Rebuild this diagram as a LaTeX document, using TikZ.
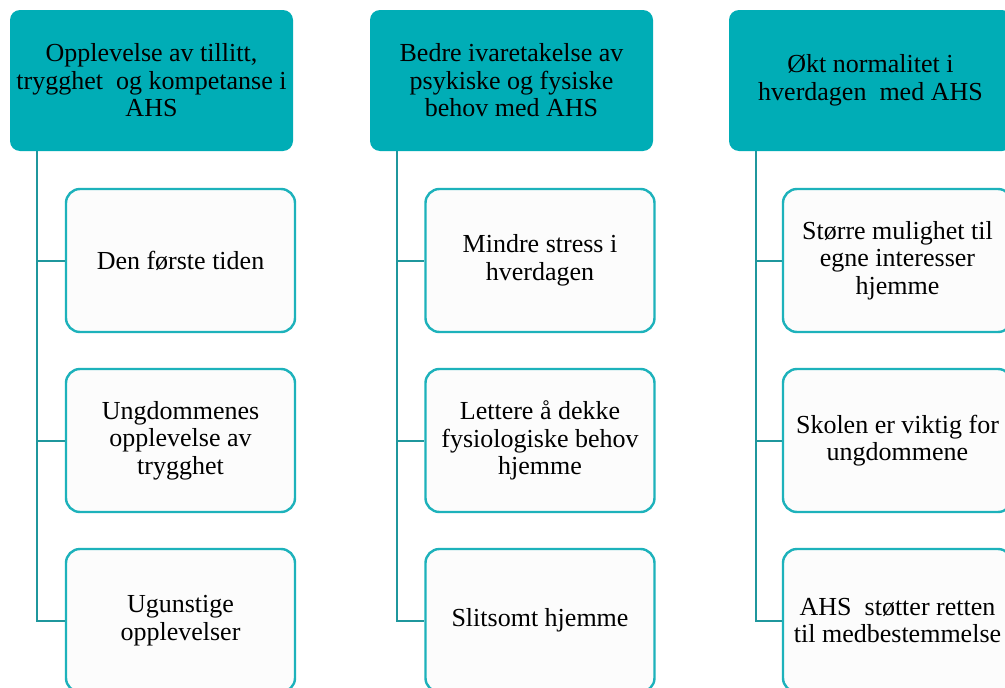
\documentclass[tikz,border=0pt]{standalone}
\usepackage{fontspec}
\setmainfont{Liberation Serif}
\definecolor{headfill}{HTML}{00ADB6}
\definecolor{conn}{HTML}{1F979D}
\definecolor{cborder}{HTML}{1DB2BB}
\definecolor{cfill}{HTML}{FCFCFC}
\tikzset{
  headbox/.style={fill=headfill, draw=none, rounded corners=10pt, minimum width=283pt, minimum height=141pt, inner sep=0pt, align=center, font=\fontsize{26}{27.5}\selectfont},
  childbox/.style={fill=cfill, draw=cborder, line width=2.4pt, rounded corners=14pt, minimum width=229pt, minimum height=143pt, inner sep=0pt, align=center, font=\fontsize{26}{27.5}\selectfont},
  connline/.style={draw=conn, line width=2pt}
}
\begin{document}
\begin{tikzpicture}[x=1pt,y=-1pt]
\useasboundingbox (0,0) rectangle (1005,688);
\clip (0,0) rectangle (1005,688);
\fill[white] (0,0) rectangle (1005,688);
% column 1
\node[headbox] (h1) at (151.5,80.5) {Opplevelse av tillitt,\\ trygghet\ \ og kompetanse i\\ AHS};
\node[childbox] (c11) at (180.5,260.5) {Den første tiden};
\node[childbox] (c12) at (180.5,440.5) {Ungdommenes\\ opplevelse av\\ trygghet};
\node[childbox] (c13) at (180.5,620.5) {Ugunstige\\ opplevelser};
\coordinate (v1) at (37,151);
\draw[connline] (v1) |- (c13.west);
\draw[connline] (v1 |- c11.west) -- (c11.west);
\draw[connline] (v1 |- c12.west) -- (c12.west);
% column 2
\node[headbox] (h2) at (511.5,80.5) {Bedre ivaretakelse av\\ psykiske og fysiske\\ behov med AHS};
\node[childbox] (c21) at (540,260.5) {Mindre stress i\\ hverdagen};
\node[childbox] (c22) at (540,440.5) {Lettere å dekke\\ fysiologiske behov\\ hjemme};
\node[childbox] (c23) at (540,620.5) {Slitsomt hjemme};
\coordinate (v2) at (397,151);
\draw[connline] (v2) |- (c23.west);
\draw[connline] (v2 |- c21.west) -- (c21.west);
\draw[connline] (v2 |- c22.west) -- (c22.west);
% column 3
\node[headbox] (h3) at (870.5,80.5) {Økt normalitet i\\ hverdagen\ \ med AHS};
\node[childbox] (c31) at (897.5,260.5) {Større mulighet til\\ egne interesser\\ hjemme};
\node[childbox] (c32) at (897.5,440.5) {Skolen er viktig for\\ ungdommene};
\node[childbox] (c33) at (897.5,620.5) {AHS\ \ støtter retten\\ til medbestemmelse};
\coordinate (v3) at (756,151);
\draw[connline] (v3) |- (c33.west);
\draw[connline] (v3 |- c31.west) -- (c31.west);
\draw[connline] (v3 |- c32.west) -- (c32.west);
\end{tikzpicture}
\end{document}
